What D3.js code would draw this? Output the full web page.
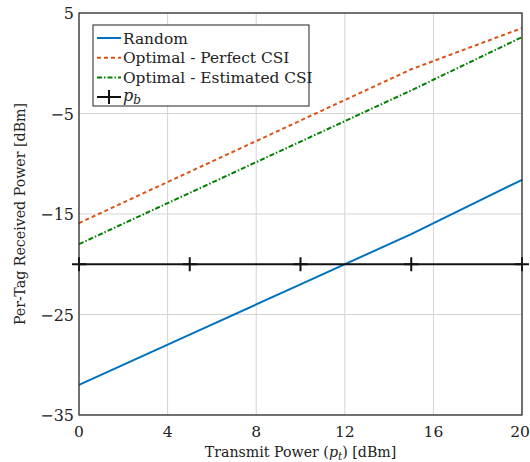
<!DOCTYPE html>
<html>
<head>
<meta charset="utf-8">
<script src="https://cdn.jsdelivr.net/npm/d3@7"></script>
<style>
  body { margin: 0; background: #fff; }
</style>
</head>
<body>
<div id="chart"></div>
<script>
const power = [0, 5, 10, 15, 20];
const random = [-32, -27, -22, -17, -11.6];
const perfectCSI = [-15.9, -10.8, -5.7, -0.6, 3.5];
const estimatedCSI = [-18, -12.9, -7.8, -2.7, 2.6];
const pb = [-20, -20, -20, -20, -20];
const xTicks = [0, 4, 8, 12, 16, 20];
const yTicks = [5, -5, -15, -25, -35];

const width = 530, height = 462,
    margin = {top: 13, right: 8, bottom: 47, left: 79},
    serif = "'DejaVu Serif', serif";

const svg = d3.select("#chart").append("svg")
    .attr("width", width)
    .attr("height", height)
    .attr("font-family", serif);

const x = d3.scaleLinear().domain([0, 20]).range([margin.left, width - margin.right]);
const y = d3.scaleLinear().domain([-35, 5]).range([height - margin.bottom, margin.top]);

// grid
svg.append("g").selectAll("line")
    .data(xTicks)
    .join("line")
    .attr("x1", d => x(d)).attr("x2", d => x(d))
    .attr("y1", y(-35)).attr("y2", y(5))
    .attr("stroke", "#d4d4d4").attr("stroke-width", 1);
svg.append("g").selectAll("line")
    .data(yTicks)
    .join("line")
    .attr("x1", x(0)).attr("x2", x(20))
    .attr("y1", d => y(d)).attr("y2", d => y(d))
    .attr("stroke", "#d4d4d4").attr("stroke-width", 1);

const line = d3.line().x(d => x(d[0])).y(d => y(d[1]));
const series = [
    {name: "Random", vals: random, color: "#0072BD", dash: null},
    {name: "Optimal - Perfect CSI", vals: perfectCSI, color: "#D95319", dash: "4,3"},
    {name: "Optimal - Estimated CSI", vals: estimatedCSI, color: "#008000", dash: "5,2,1.5,2"}
];

series.forEach(s => {
    svg.append("path")
        .datum(power.map((p, i) => [p, s.vals[i]]))
        .attr("d", line)
        .attr("fill", "none")
        .attr("stroke", s.color)
        .attr("stroke-width", 2)
        .attr("stroke-dasharray", s.dash);
});

// p_b line with + markers
svg.append("path")
    .datum(power.map((p, i) => [p, pb[i]]))
    .attr("d", line)
    .attr("fill", "none")
    .attr("stroke", "#111")
    .attr("stroke-width", 2);
svg.append("g").selectAll("path")
    .data(power)
    .join("path")
    .attr("d", (d, i) => `M${x(d) - 7},${y(pb[i])}h14M${x(d)},${y(pb[i]) - 7}v14`)
    .attr("stroke", "#111")
    .attr("stroke-width", 2);

// box
svg.append("rect")
    .attr("x", x(0)).attr("y", y(5))
    .attr("width", x(20) - x(0)).attr("height", y(-35) - y(5))
    .attr("fill", "none").attr("stroke", "#222").attr("stroke-width", 1.2);

// tick labels
svg.append("g").selectAll("text")
    .data(xTicks)
    .join("text")
    .attr("x", d => Math.min(x(d), width - 10)).attr("y", y(-35) + 22)
    .attr("text-anchor", "middle")
    .attr("font-size", 15.5)
    .attr("fill", "#222")
    .text(d => d);
svg.append("g").selectAll("text")
    .data(yTicks)
    .join("text")
    .attr("x", x(0) - 5).attr("y", d => y(d) + 6)
    .attr("text-anchor", "end")
    .attr("font-size", 16)
    .attr("fill", "#222")
    .text(d => d < 0 ? "\u2212" + Math.abs(d) : d);

// axis labels
const xl = svg.append("text")
    .attr("x", (x(0) + x(20)) / 2).attr("y", 457)
    .attr("text-anchor", "middle")
    .attr("font-size", 14.2)
    .attr("fill", "#222");
xl.append("tspan").text("Transmit Power (");
xl.append("tspan").attr("font-style", "italic").text("p");
xl.append("tspan").attr("font-style", "italic").attr("font-size", 10.5).attr("dy", 3).text("t");
xl.append("tspan").attr("dy", -3).text(") [dBm]");

svg.append("text")
    .attr("transform", `translate(25,${(y(5) + y(-35)) / 2}) rotate(-90)`)
    .attr("text-anchor", "middle")
    .attr("font-size", 14.2)
    .attr("fill", "#222")
    .text("Per-Tag Received Power [dBm]");

// legend
const lg = svg.append("g");
lg.append("rect")
    .attr("x", 93).attr("y", 25).attr("width", 216).attr("height", 81)
    .attr("fill", "#fff").attr("stroke", "#222").attr("stroke-width", 1);
series.forEach((s, i) => {
    const yy = 38 + i * 19.7;
    lg.append("line")
        .attr("x1", 97).attr("x2", 121).attr("y1", yy).attr("y2", yy)
        .attr("stroke", s.color).attr("stroke-width", 2)
        .attr("stroke-dasharray", s.dash);
    lg.append("text")
        .attr("x", 123).attr("y", yy + 5.5)
        .attr("font-size", 15.4)
        .attr("fill", "#222")
        .text(s.name);
});
const py = 38 + 3 * 19.7;
lg.append("path")
    .attr("d", `M97,${py}h24M109,${py - 7}v14`)
    .attr("stroke", "#111").attr("stroke-width", 2);
const pt = lg.append("text").attr("x", 123).attr("y", py + 4).attr("font-size", 16).attr("fill", "#222");
pt.append("tspan").attr("font-style", "italic").text("p");
pt.append("tspan").attr("font-style", "italic").attr("font-size", 12).attr("dy", 3).text("b");
</script>
</body>
</html>
